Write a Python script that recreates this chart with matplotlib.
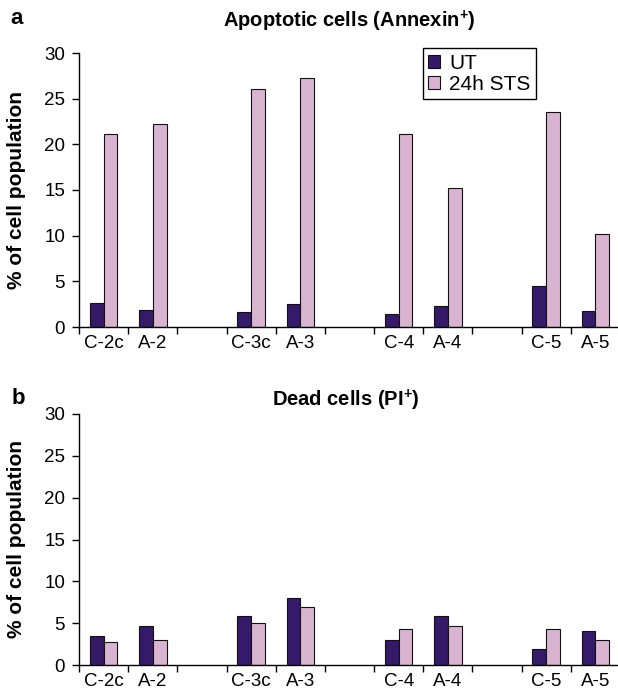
import numpy as np
import matplotlib
matplotlib.use("Agg")
import matplotlib.pyplot as plt

plt.rcParams['font.family'] = ['Liberation Sans', 'DejaVu Sans']
plt.rcParams['mathtext.fontset'] = 'custom'
plt.rcParams['mathtext.rm'] = 'Liberation Sans'
plt.rcParams['mathtext.bf'] = 'Liberation Sans:bold'

# category slots along x ('' = empty spacer slot)
slots = ['C-2c', 'A-2', '', 'C-3c', 'A-3', '', 'C-4', 'A-4', '', 'C-5', 'A-5']
samples = ['C-2c', 'A-2', 'C-3c', 'A-3', 'C-4', 'A-4', 'C-5', 'A-5']

# a: apoptotic cells (Annexin+)
apo_ut = [2.6, 1.9, 1.6, 2.5, 1.4, 2.3, 4.5, 1.8]
apo_sts = [21.1, 22.2, 26.1, 27.3, 21.1, 15.2, 23.5, 10.2]

# b: dead cells (PI+)
dead_ut = [3.5, 4.7, 5.8, 8.0, 3.0, 5.8, 1.9, 4.1]
dead_sts = [2.8, 3.0, 5.0, 6.9, 4.3, 4.7, 4.3, 3.0]

col_ut = '#351a69'
col_sts = '#d9b4d1'

fig = plt.figure(figsize=(6.18, 6.99), dpi=100)
ax1 = fig.add_axes([79/618, 1 - 327/699, 541/618, 274/699])
ax2 = fig.add_axes([79/618, 1 - 665/699, 541/618, 251/699])

xpos = np.array([slots.index(s) for s in samples])
w = 0.28


def draw_panel(ax, ut, sts):
    ax.bar(xpos - w/2, ut, w, color=col_ut, edgecolor='#111111', linewidth=0.8, label='UT')
    ax.bar(xpos + w/2, sts, w, color=col_sts, edgecolor='#111111', linewidth=0.8, label='24h STS')
    ax.set_xlim(-0.5, len(slots) - 0.5)
    ax.set_ylim(0, 30)
    ax.set_yticks(range(0, 31, 5))
    # major ticks mark slot boundaries, labels sit on minor ticks at slot centres
    ax.set_xticks(np.arange(len(slots) + 1) - 0.5)
    ax.set_xticklabels([])
    ax.set_xticks(np.arange(len(slots)), minor=True)
    ax.set_xticklabels(slots, minor=True, fontsize=13.5)
    ax.tick_params(axis='x', which='major', length=5, width=1, direction='out')
    ax.tick_params(axis='x', which='minor', length=0, pad=6)
    ax.tick_params(axis='y', length=5, width=1, pad=5, labelsize=13.5)
    for s in ['top', 'right']:
        ax.spines[s].set_visible(False)
    for s in ['left', 'bottom']:
        ax.spines[s].set_linewidth(1)
    ax.set_ylabel('% of cell population', fontsize=15, fontweight='bold')
    ax.yaxis.set_label_coords(-53/541, 0.5)


draw_panel(ax1, apo_ut, apo_sts)
draw_panel(ax2, dead_ut, dead_sts)

leg = ax1.legend(loc='upper left', bbox_to_anchor=(0.636, 1.017), fontsize=15,
                 frameon=True, fancybox=False, edgecolor='black', framealpha=1,
                 handlelength=0.55, handleheight=0.6, handletextpad=0.45,
                 labelspacing=0.1, borderpad=0.25, borderaxespad=0)
leg.get_frame().set_linewidth(1)

fig.text(349/618, 1 - 21/699, r'Apoptotic cells (Annexin$^{\mathbf{+}}$)', ha='center', va='center',
         fontsize=14.5, fontweight='bold')
fig.text(346/618, 1 - 400/699, r'Dead cells (PI$^{\mathbf{+}}$)', ha='center', va='center',
         fontsize=14.5, fontweight='bold')
fig.text(10/618, 1 - 18/699, 'a', fontsize=16, fontweight='bold', va='center')
fig.text(12/618, 1 - 399/699, 'b', fontsize=16, fontweight='bold', va='center')

fig.savefig('out.png', dpi=100)
